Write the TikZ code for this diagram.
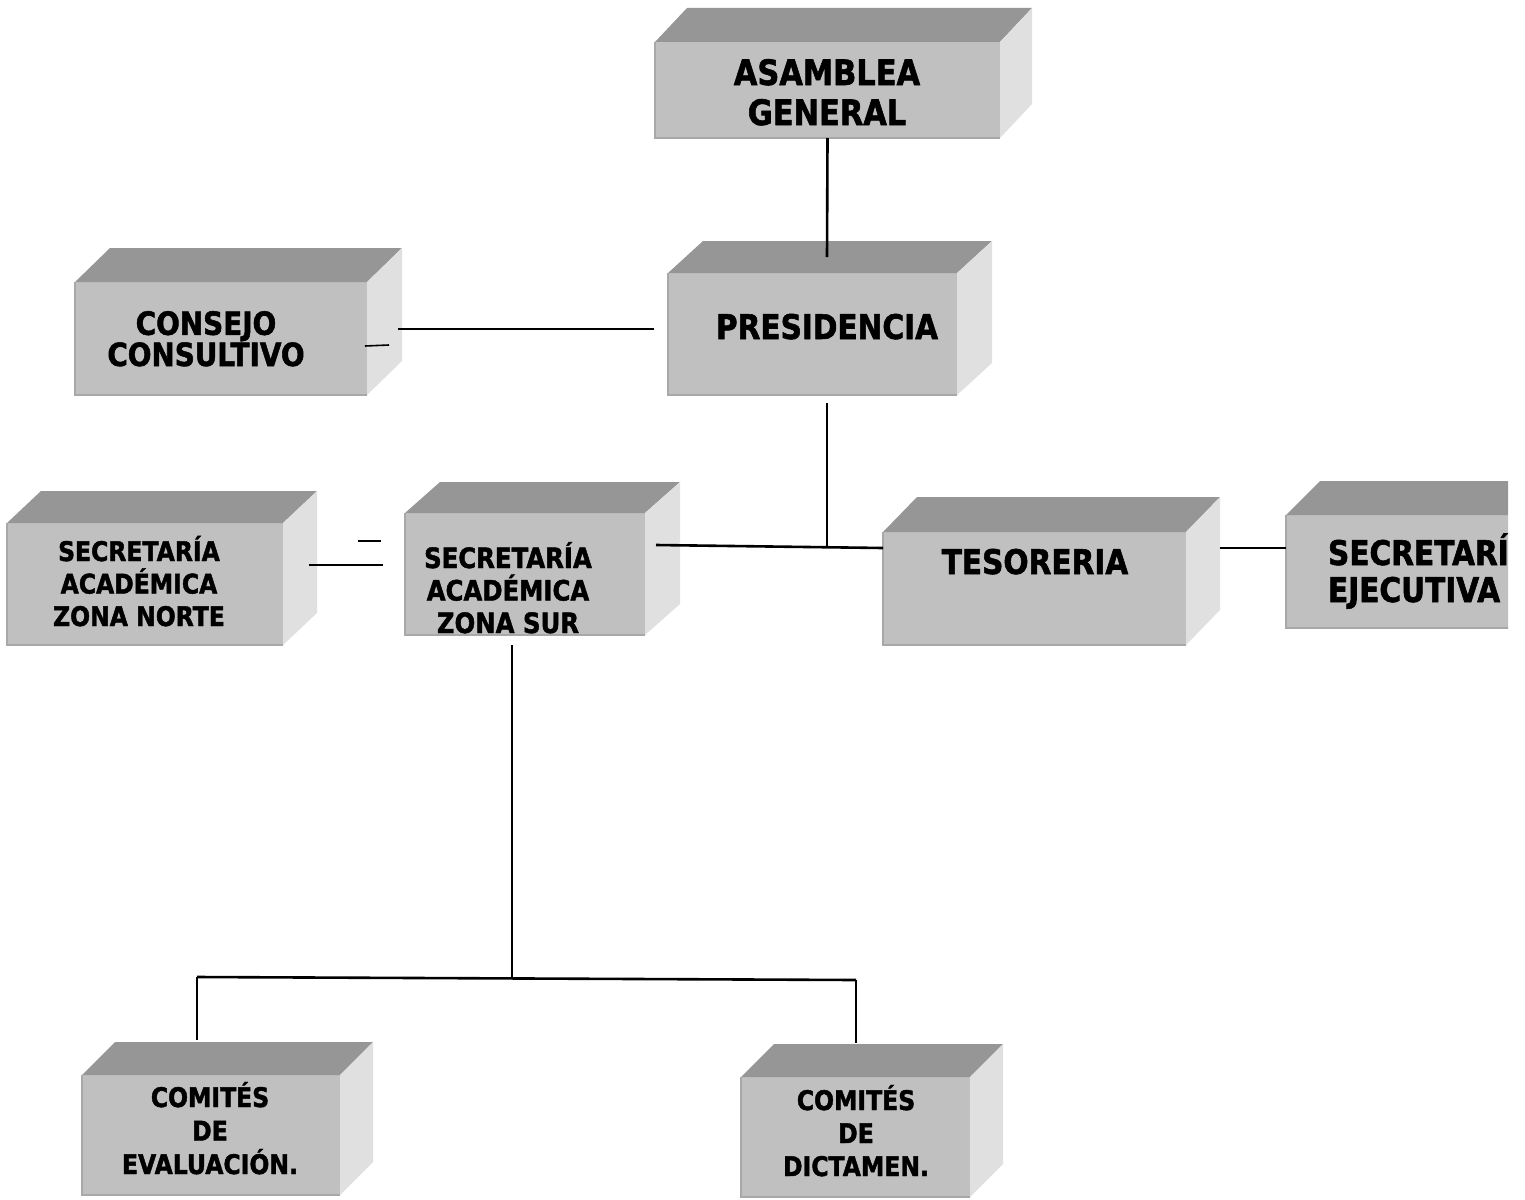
\documentclass[tikz,border=0pt]{standalone}
\usepackage{fontspec}
\newfontfamily\lblfam[FakeStretch=0.87,BoldFont={DejaVu Sans Bold},BoldFeatures={FakeBold=1.6}]{DejaVu Sans}
\newcommand\lblfont[2]{\lblfam\bfseries\fontsize{#1}{#2}\selectfont}
\definecolor{frontc}{HTML}{C0C0C0}
\definecolor{topc}{HTML}{969696}
\definecolor{sidec}{HTML}{E0E0E0}
\definecolor{edgec}{HTML}{A8A8A8}
\tikzset{
  frontface/.style={fill=frontc, inner sep=0pt, outer sep=0pt, anchor=north west},
  topface/.style={fill=topc},
  sideface/.style={fill=sidec},
  edgeline/.style={draw=edgec, line width=1.2pt},
  conn/.style={draw=black, line width=2.6pt},
  thinconn/.style={draw=black, line width=1.6pt},
  boxlabel/.style={align=center, inner sep=0pt, outer sep=0pt, anchor=base},
}
% name, x1, y1, x2, y2, dx, dy
\newcommand\cubebox[7]{%
  \node[frontface, minimum width={(#4)-(#2)}, minimum height={(#5)-(#3)}] (#1) at (#2,#3) {};
  \fill[topface] (#1.north west) -- ++(#6,-#7) -- ++({(#4)-(#2)},0) -- (#1.north east) -- cycle;
  \fill[sideface] (#1.north east) -- ++(#6,-#7) -- ++(0,{(#5)-(#3)}) -- (#1.south east) -- cycle;
  \draw[edgeline] (#1.north west) -- (#1.south west) -- (#1.south east);
}
\begin{document}
\begin{tikzpicture}[x=1pt, y=-1pt]
\useasboundingbox (0,0) rectangle (1525,1199);

% boxes
\cubebox{asamblea}{655}{42}{1000}{138}{32}{34}
\cubebox{presidencia}{668}{273}{957}{395}{35}{32}
\cubebox{consejo}{75}{282}{367}{395}{35}{34}
\cubebox{norte}{7}{523}{283}{645}{34}{32}
\cubebox{sur}{405}{513}{645}{635}{35}{31}
\cubebox{tesoreria}{883}{532}{1186}{645}{34}{35}
\cubebox{evaluacion}{82}{1075}{340}{1195}{33}{33}
\cubebox{dictamen}{741}{1077}{970}{1197}{33}{33}
\begin{scope}
  \clip (1270,470) rectangle (1508,650);
  \cubebox{ejecutiva}{1286}{515}{1600}{628}{34}{34}
  \node[boxlabel, anchor=base west, align=left, font={\lblfont{34}{37}}] (tEjecutiva) at (1328,602) {SECRETARÍA\\EJECUTIVA};
\end{scope}

% labels (anchor = baseline of the last line)
\node[boxlabel, font={\lblfont{35}{40}}] (tAsamblea) at (827,125) {ASAMBLEA\\GENERAL};
\node[boxlabel, font={\lblfont{34}{40}}] (tPresidencia) at (827,339) {PRESIDENCIA};
\node[boxlabel, font={\lblfont{32}{28}}] (tConsejo) at (206,366) {CONSEJO\\CONSULTIVO};
\node[boxlabel, font={\lblfont{27}{32.5}}] (tNorte) at (139,626) {SECRETARÍA\\ACADÉMICA\\ZONA NORTE};
\node[boxlabel, font={\lblfont{28}{32.5}}] (tSur) at (508,633) {SECRETARÍA\\ACADÉMICA\\ZONA SUR};
\node[boxlabel, font={\lblfont{34}{40}}] (tTesoreria) at (1035,574) {TESORERIA};
\node[boxlabel, font={\lblfont{27}{33.5}}] (tEvaluacion) at (210,1174) {COMITÉS\\DE\\EVALUACIÓN.};
\node[boxlabel, font={\lblfont{27}{33}}] (tDictamen) at (856,1176) {COMITÉS\\DE\\DICTAMEN.};

% free ends of connectors
\coordinate (pTop) at (827,257);
\coordinate (cR) at (398,329);
\coordinate (pL) at (654,329);
\coordinate (cStubA) at (365,346);
\coordinate (cStubB) at (389,345);
\coordinate (pBot) at (827,403);
\coordinate (junc) at (827,546);
\coordinate (sR) at (656,545);
\coordinate (tL) at (883,548);
\coordinate (tR) at (1220,548);
\coordinate (eL) at (1286,548);
\coordinate (nR) at (309,565);
\coordinate (sL) at (383,565);
\coordinate (stubA) at (358,541);
\coordinate (stubB) at (381,541);
\coordinate (sBot) at (512,645);
\coordinate (busMid) at (512,978.5);
\coordinate (busL) at (197,977);
\coordinate (busR) at (856,980);
\coordinate (evTop) at (197,1040);
\coordinate (diTop) at (856,1043);

% connectors
\draw[conn] (asamblea.south) -- (pTop);
\draw[conn] (cR) -- (pL);
\draw[thinconn] (cStubA) -- (cStubB);
\draw[conn] (pBot) -- (junc);
\draw[conn] (sR) -- (tL);
\draw[conn] (tR) -- (eL);
\draw[conn] (nR) -- (sL);
\draw[conn] (stubA) -- (stubB);
\draw[conn] (sBot) -- (busMid);
\draw[conn] (busL) -- (busR);
\draw[conn] (busL) -- (evTop);
\draw[conn] (busR) -- (diTop);
\end{tikzpicture}
\end{document}
